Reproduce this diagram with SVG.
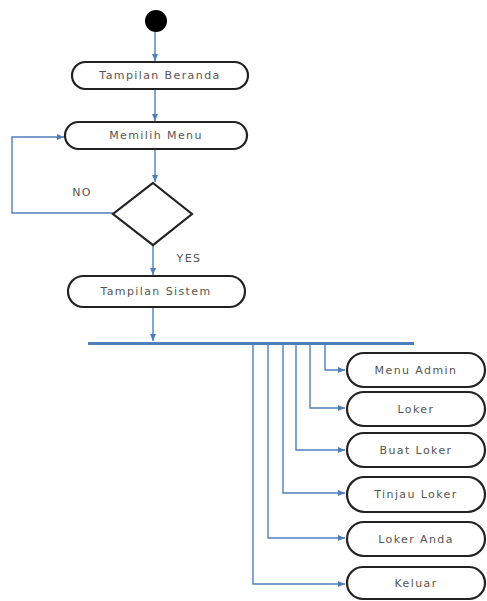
<svg xmlns="http://www.w3.org/2000/svg" width="487" height="601" viewBox="0 0 487 601">
<style>
.box{fill:#fff;stroke:#222;stroke-width:2.2}
.t{font-family:"DejaVu Sans","Liberation Sans",sans-serif;font-size:11px;letter-spacing:1.4px;fill:#555;text-anchor:middle}
.c{fill:none;stroke:#4f7fba;stroke-width:1.4}
</style>
<defs>
<marker id="a" markerWidth="8" markerHeight="8" refX="7" refY="4" orient="auto" markerUnits="userSpaceOnUse">
<path d="M0,1 L7,4 L0,7 Z" fill="#4f7fba"/>
</marker>
</defs>
<rect width="487" height="601" fill="#fff"/>
<g id="connectors">
<path class="c" d="M155,32 V61" marker-end="url(#a)"/>
<path class="c" d="M155,89 V121" marker-end="url(#a)"/>
<path class="c" d="M155,149 V182" marker-end="url(#a)"/>
<path class="c" d="M113,213 H12 V137 H64" marker-end="url(#a)"/>
<path class="c" d="M153,246 V275" marker-end="url(#a)"/>
<path class="c" d="M153,308 V341" marker-end="url(#a)"/>
<line x1="88" y1="343.5" x2="414" y2="343.5" stroke="#4f7fba" stroke-width="3"/>
<path class="c" d="M325,345 V370 H345" marker-end="url(#a)"/>
<path class="c" d="M310,345 V408 H345" marker-end="url(#a)"/>
<path class="c" d="M296,345 V450 H345" marker-end="url(#a)"/>
<path class="c" d="M283,345 V493 H345" marker-end="url(#a)"/>
<path class="c" d="M268,345 V538 H345" marker-end="url(#a)"/>
<path class="c" d="M253,345 V584 H345" marker-end="url(#a)"/>
</g>
<g id="start"><circle cx="156" cy="21" r="11" fill="#000"/></g>
<g id="tampilan-beranda"><rect class="box" x="72" y="62" width="176" height="27" rx="13.5"/><text class="t" x="160" y="79">Tampilan Beranda</text></g>
<g id="memilih-menu"><rect class="box" x="65" y="122" width="182" height="27" rx="13.5"/><text class="t" x="156" y="139">Memilih Menu</text></g>
<g id="decision"><polygon points="153,183 192,214 153,245 113,214" fill="#fff" stroke="#222" stroke-width="2.2"/></g>
<g id="label-no"><text class="t" x="82" y="196">NO</text></g>
<g id="label-yes"><text class="t" x="189" y="262">YES</text></g>
<g id="tampilan-sistem"><rect class="box" x="68" y="276" width="177" height="31" rx="15.5"/><text class="t" x="156" y="295">Tampilan Sistem</text></g>
<g id="menu-admin"><rect class="box" x="347" y="353" width="138" height="34" rx="17"/><text class="t" x="416" y="374">Menu Admin</text></g>
<g id="loker"><rect class="box" x="347" y="392" width="138" height="34" rx="17"/><text class="t" x="416" y="413">Loker</text></g>
<g id="buat-loker"><rect class="box" x="347" y="433" width="138" height="34" rx="17"/><text class="t" x="416" y="454">Buat Loker</text></g>
<g id="tinjau-loker"><rect class="box" x="347" y="477" width="138" height="35" rx="17.5"/><text class="t" x="416" y="498">Tinjau Loker</text></g>
<g id="loker-anda"><rect class="box" x="347" y="522" width="138" height="34" rx="17"/><text class="t" x="416" y="543">Loker Anda</text></g>
<g id="keluar"><rect class="box" x="347" y="567" width="138" height="32" rx="16"/><text class="t" x="416" y="587">Keluar</text></g>
</svg>
